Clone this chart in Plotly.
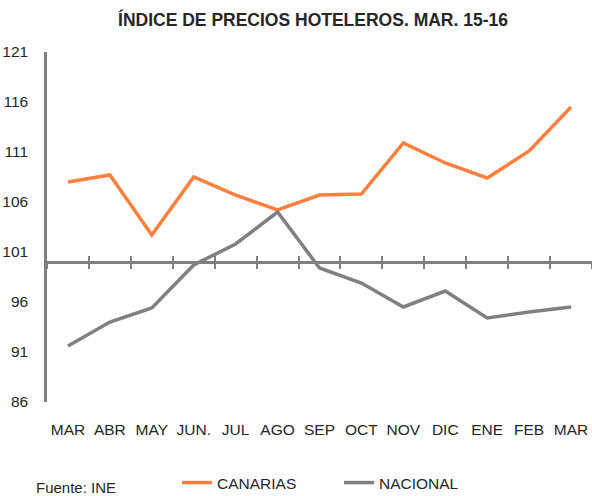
import plotly.graph_objects as go

months = ["MAR", "ABR", "MAY", "JUN.", "JUL", "AGO", "SEP", "OCT", "NOV", "DIC", "ENE", "FEB", "MAR"]
canarias = [108.0, 108.7, 102.7, 108.5, 106.7, 105.2, 106.7, 106.8, 111.9, 109.9, 108.4, 111.1, 115.5]
nacional = [91.6, 94.0, 95.4, 99.7, 101.8, 105.0, 99.4, 97.9, 95.5, 97.1, 94.4, 95.0, 95.5]
y_ticks = [86, 91, 96, 101, 106, 111, 116, 121]
cross_value = 100

FONT = "Liberation Sans, Arial, sans-serif"
TXT = "#262626"
ORANGE = "#FF7F3F"
GRAY = "#808080"

W, H = 592, 496
L, R, T, B = 47, 0, 52, 94
PW, PH = W - L - R, H - T - B
BOTTOM = T + PH

idx = list(range(len(months)))
y_min, y_max = y_ticks[0], y_ticks[-1]
x_range = [-0.5, len(months) - 0.5]
boundaries = [i - 0.5 for i in range(len(months) + 1)]
cross_pos = (cross_value - y_min) / (y_max - y_min)

fig = go.Figure()
fig.add_trace(go.Scatter(x=idx, y=canarias, name="CANARIAS", mode="lines",
                         line=dict(color=ORANGE, width=3.5)))
fig.add_trace(go.Scatter(x=idx, y=nacional, name="NACIONAL", mode="lines",
                         line=dict(color=GRAY, width=3.5)))
# helper traces so the crossing axes are drawn
for ax in ["x2", "x3"]:
    fig.add_trace(go.Scatter(x=[None], y=[None], xaxis=ax, yaxis="y",
                             showlegend=False, hoverinfo="skip"))

cross_axis = dict(overlaying="x", anchor="free", position=cross_pos, range=x_range,
                  tickmode="array", tickvals=boundaries, showticklabels=False,
                  showline=True, linecolor=GRAY, linewidth=2.5,
                  ticklen=5, tickwidth=2, tickcolor=GRAY, showgrid=False, zeroline=False)

fig.update_layout(
    width=W, height=H,
    margin=dict(l=L, r=R, t=T, b=B, autoexpand=False),
    paper_bgcolor="white", plot_bgcolor="white",
    font=dict(family=FONT, size=15, color=TXT),
    title=dict(text="<b>ÍNDICE DE PRECIOS HOTELEROS. MAR. 15-16</b>",
               x=313 / W, xanchor="center", xref="container",
               y=1 - 20 / H, yanchor="middle",
               font=dict(family=FONT, size=17.5, color=TXT)),
    xaxis=dict(range=x_range, tickmode="array", tickvals=idx, ticktext=months,
               showline=False, ticks="", showgrid=False, zeroline=False,
               ticklabelstandoff=16, tickfont=dict(size=15.5, color=TXT)),
    xaxis2=dict(cross_axis, ticks="outside"),
    xaxis3=dict(cross_axis, ticks="inside"),
    yaxis=dict(range=[y_min, y_max], tickmode="array", tickvals=y_ticks,
               showline=True, linecolor=GRAY, linewidth=2.5, ticks="",
               showgrid=False, zeroline=False, ticklabelstandoff=13,
               tickfont=dict(size=15.5, color=TXT)),
    legend=dict(orientation="h", x=(177 - L) / PW, xanchor="left",
                y=-(483 - BOTTOM) / PH, yanchor="middle",
                entrywidth=117, font=dict(size=15.5, color=TXT),
                bgcolor="rgba(0,0,0,0)"),
    showlegend=True,
    annotations=[dict(text="Fuente: INE", xref="paper", yref="paper",
                      x=(34 - L) / PW, y=-(487 - BOTTOM) / PH,
                      xanchor="left", yanchor="middle", showarrow=False,
                      font=dict(size=15, color=TXT))],
)

# remove the default page margin so the figure fills the window exactly
fig.write_html("out.html",
               config={"displayModeBar": False},
               post_script="document.body.style.margin='0';document.body.style.overflow='hidden';")
